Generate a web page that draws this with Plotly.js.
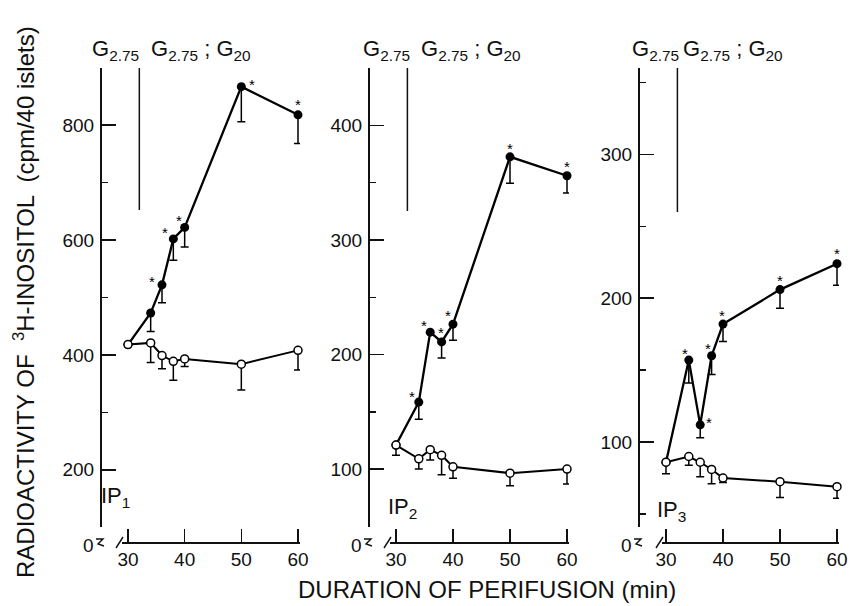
<!DOCTYPE html>
<html>
<head>
<meta charset="utf-8">
<script src="https://cdn.plot.ly/plotly-3.0.1.min.js"></script>
<style>html,body{margin:0;padding:0;background:#fff;}#chart{width:856px;height:606px;}</style>
</head>
<body>
<div id="chart"></div>
<script>
// ---------------- DATA ----------------
const time = [30, 34, 36, 38, 40, 50, 60];
const switchTime = 32;

// IP1
const ip1Control    = [418, 421, 399, 389, 393, 384, 408];
const ip1ControlErr = [0, 34, 23, 33, 13, 45, 34];
const ip1G20        = [418, 473, 522, 602, 622, 867, 818];
const ip1G20Err     = [0, 32, 31, 37, 34, 61, 50];
const ip1Star       = [false, false, true, true, true, true, true];

// IP2
const ip2Control    = [121, 109, 117, 112, 102, 96.5, 100];
const ip2ControlErr = [9, 9, 9, 17, 10, 11, 13];
const ip2G20        = [121, 158.5, 219.5, 211, 226.5, 372.5, 356];
const ip2G20Err     = [0, 15, 0, 14, 14, 23, 15];
const ip2Star       = [false, true, true, true, true, true, true];

// IP3
const ip3Control    = [86, 90, 86, 81, 75, 72.5, 69];
const ip3ControlErr = [8, 6, 10, 10, 3, 11, 8];
const ip3G20        = [86, 157, 112, 160, 182, 206, 224];
const ip3G20Err     = [0, 16, 9, 13, 12, 13, 15];
const ip3Star       = [false, true, true, true, true, true, true];

const panelNames = ['IP<sub>1</sub>', 'IP<sub>2</sub>', 'IP<sub>3</sub>'];
const yTickVals = [[200, 400, 600, 800], [100, 200, 300, 400], [100, 200, 300]];
const yMinorStep = [100, 50, 50];
const xTickVals = [30, 40, 50, 60];

// ---------------- LAYOUT GEOMETRY (pixels) ----------------
const W = 856, H = 606;
const px = v => v / W;
const py = v => 1 - v / H;
const yTopPx = 68, yBotPx = 527, xAxisPx = 542;

const panels = [
  {ax: 100, x30: 128, x60: 298, xs: 122, xe: 300, yr: [100.5, 899.5],
   data: [ip1Control, ip1ControlErr, ip1G20, ip1G20Err, ip1Star],
   starOff: [[0,0],[0,0],[-10,5],[-8,8],[-6,9],[11,4],[0,12]],
   g1: 115, g2: 201, lab: [116, 497], lineEnd: 210},
  {ax: 368, x30: 396, x60: 567, xs: 390, xe: 569, yr: [49.5, 450],
   data: [ip2Control, ip2ControlErr, ip2G20, ip2G20Err, ip2Star],
   starOff: [[0,0],[-7,8],[-6,9],[-1,11],[-5,11],[0,10],[0,11]],
   g1: 386, g2: 471, lab: [402, 508], lineEnd: 211},
  {ax: 638, x30: 666, x60: 837, xs: 662, xe: 839, yr: [41, 360],
   data: [ip3Control, ip3ControlErr, ip3G20, ip3G20Err, ip3Star],
   starOff: [[0,0],[-4,9],[9,4],[-4,9],[-1,11],[0,11],[0,12]],
   g1: 655, g2: 733, lab: [671, 511], lineEnd: 212}
];

const tickFont = {family: 'Liberation Sans, Arial, sans-serif', size: 19, color: '#111'};
const titleFont = {family: 'Liberation Sans, Arial, sans-serif', size: 24, color: '#111'};
const labFont = {family: 'Liberation Sans, Arial, sans-serif', size: 22, color: '#111'};

const traces = [];
const annotations = [];
const shapes = [];
const layout = {
  width: W, height: H,
  margin: {l: 0, r: 0, t: 0, b: 0},
  paper_bgcolor: '#fff', plot_bgcolor: 'rgba(0,0,0,0)',
  showlegend: false,
  font: tickFont
};

function paperText(xp, yp, text, font, extra) {
  return Object.assign({x: px(xp), y: py(yp), xref: 'paper', yref: 'paper', showarrow: false,
    xanchor: 'center', yanchor: 'middle', text: text, font: font}, extra || {});
}

panels.forEach((p, i) => {
  const k = i === 0 ? '' : String(i + 1);
  const xa = 'x' + k, ya = 'y' + k;
  const ppm = (p.x60 - p.x30) / 30;
  const xr = [30 - (p.x30 - p.xs) / ppm, 60 + (p.xe - p.x60) / ppm];
  const [ctl, ctlErr, g20, g20Err, star] = p.data;

  layout['xaxis' + k] = {
    domain: [px(p.xs), px(p.xe)], range: xr, anchor: 'free', position: py(xAxisPx),
    showline: true, linecolor: '#111', linewidth: 1.6,
    ticks: 'inside', ticklen: 13, tickwidth: 1.6, tickcolor: '#111',
    tickmode: 'array', tickvals: xTickVals, ticktext: xTickVals.map(String),
    showgrid: false, zeroline: false, tickfont: tickFont, fixedrange: true
  };
  layout['yaxis' + k] = {
    domain: [py(yBotPx), py(yTopPx)], range: p.yr, anchor: 'free', position: px(p.ax),
    showline: true, linecolor: '#111', linewidth: 1.6,
    ticks: 'inside', ticklen: 14, tickwidth: 1.6, tickcolor: '#111',
    tickmode: 'array', tickvals: yTickVals[i], ticktext: yTickVals[i].map(String),
    minor: {ticks: 'inside', ticklen: 6, tickwidth: 1.4, tickcolor: '#111', dtick: yMinorStep[i], tick0: 0, showgrid: false},
    showgrid: false, zeroline: false, tickfont: tickFont, ticklabelstandoff: 2, fixedrange: true
  };

  // G20 (filled)
  traces.push({
    x: time, y: g20, xaxis: xa, yaxis: ya, type: 'scatter', mode: 'lines+markers',
    line: {color: '#000', width: 2.3},
    marker: {color: '#000', size: 9},
    error_y: {type: 'data', symmetric: false, array: time.map(() => 0), arrayminus: g20Err,
              color: '#000', thickness: 1.5, width: 4},
    cliponaxis: false
  });
  // control (open)
  traces.push({
    x: time, y: ctl, xaxis: xa, yaxis: ya, type: 'scatter', mode: 'lines+markers',
    line: {color: '#000', width: 2},
    marker: {color: '#fff', size: 8, line: {color: '#000', width: 1.5}},
    error_y: {type: 'data', symmetric: false, array: time.map(() => 0), arrayminus: ctlErr,
              color: '#000', thickness: 1.5, width: 4},
    cliponaxis: false
  });

  // asterisks
  time.forEach((t, j) => {
    if (!star[j]) return;
    annotations.push({x: t, y: g20[j], xref: xa, yref: ya, text: '*', showarrow: false,
      xanchor: 'center', yanchor: 'middle',
      xshift: p.starOff[j][0], yshift: p.starOff[j][1] - 2,
      font: {family: 'Liberation Sans, Arial', size: 15, color: '#000'}});
  });

  // switch line
  shapes.push({type: 'line', xref: xa, yref: 'paper', x0: switchTime, x1: switchTime,
    y0: py(p.lineEnd), y1: py(yTopPx), line: {color: '#111', width: 1.5}});

  // condition labels
  annotations.push(paperText(p.g1, 50, 'G<sub>2.75</sub>', labFont));
  annotations.push(paperText(p.g2, 50, 'G<sub>2.75</sub> ; G<sub>20</sub>', labFont));
  // panel label
  annotations.push(paperText(p.lab[0], p.lab[1], panelNames[i], labFont));
  // zero label and break marks
  annotations.push(paperText(p.ax - 12, 545, '0', tickFont));
  const a = p.ax;
  shapes.push({type: 'path', xref: 'paper', yref: 'paper',
    path: `M ${px(a-4)},${py(539)} L ${px(a+3)},${py(539)} L ${px(a-2)},${py(544)} L ${px(a+4)},${py(546)}`,
    line: {color: '#111', width: 1.4}});
  shapes.push({type: 'line', xref: 'paper', yref: 'paper',
    x0: px(p.xs - 6), y0: py(548), x1: px(p.xs + 1), y1: py(537), line: {color: '#111', width: 1.4}});
});

// axis titles
annotations.push(paperText(487, 589, 'DURATION OF PERIFUSION (min)', titleFont));
annotations.push(paperText(24, 302, 'RADIOACTIVITY OF  <sup>3</sup>H-INOSITOL  (cpm/40 islets)', titleFont, {textangle: -90}));

layout.annotations = annotations;
layout.shapes = shapes;

Plotly.newPlot('chart', traces, layout, {staticPlot: true, displayModeBar: false});
</script>
</body>
</html>
